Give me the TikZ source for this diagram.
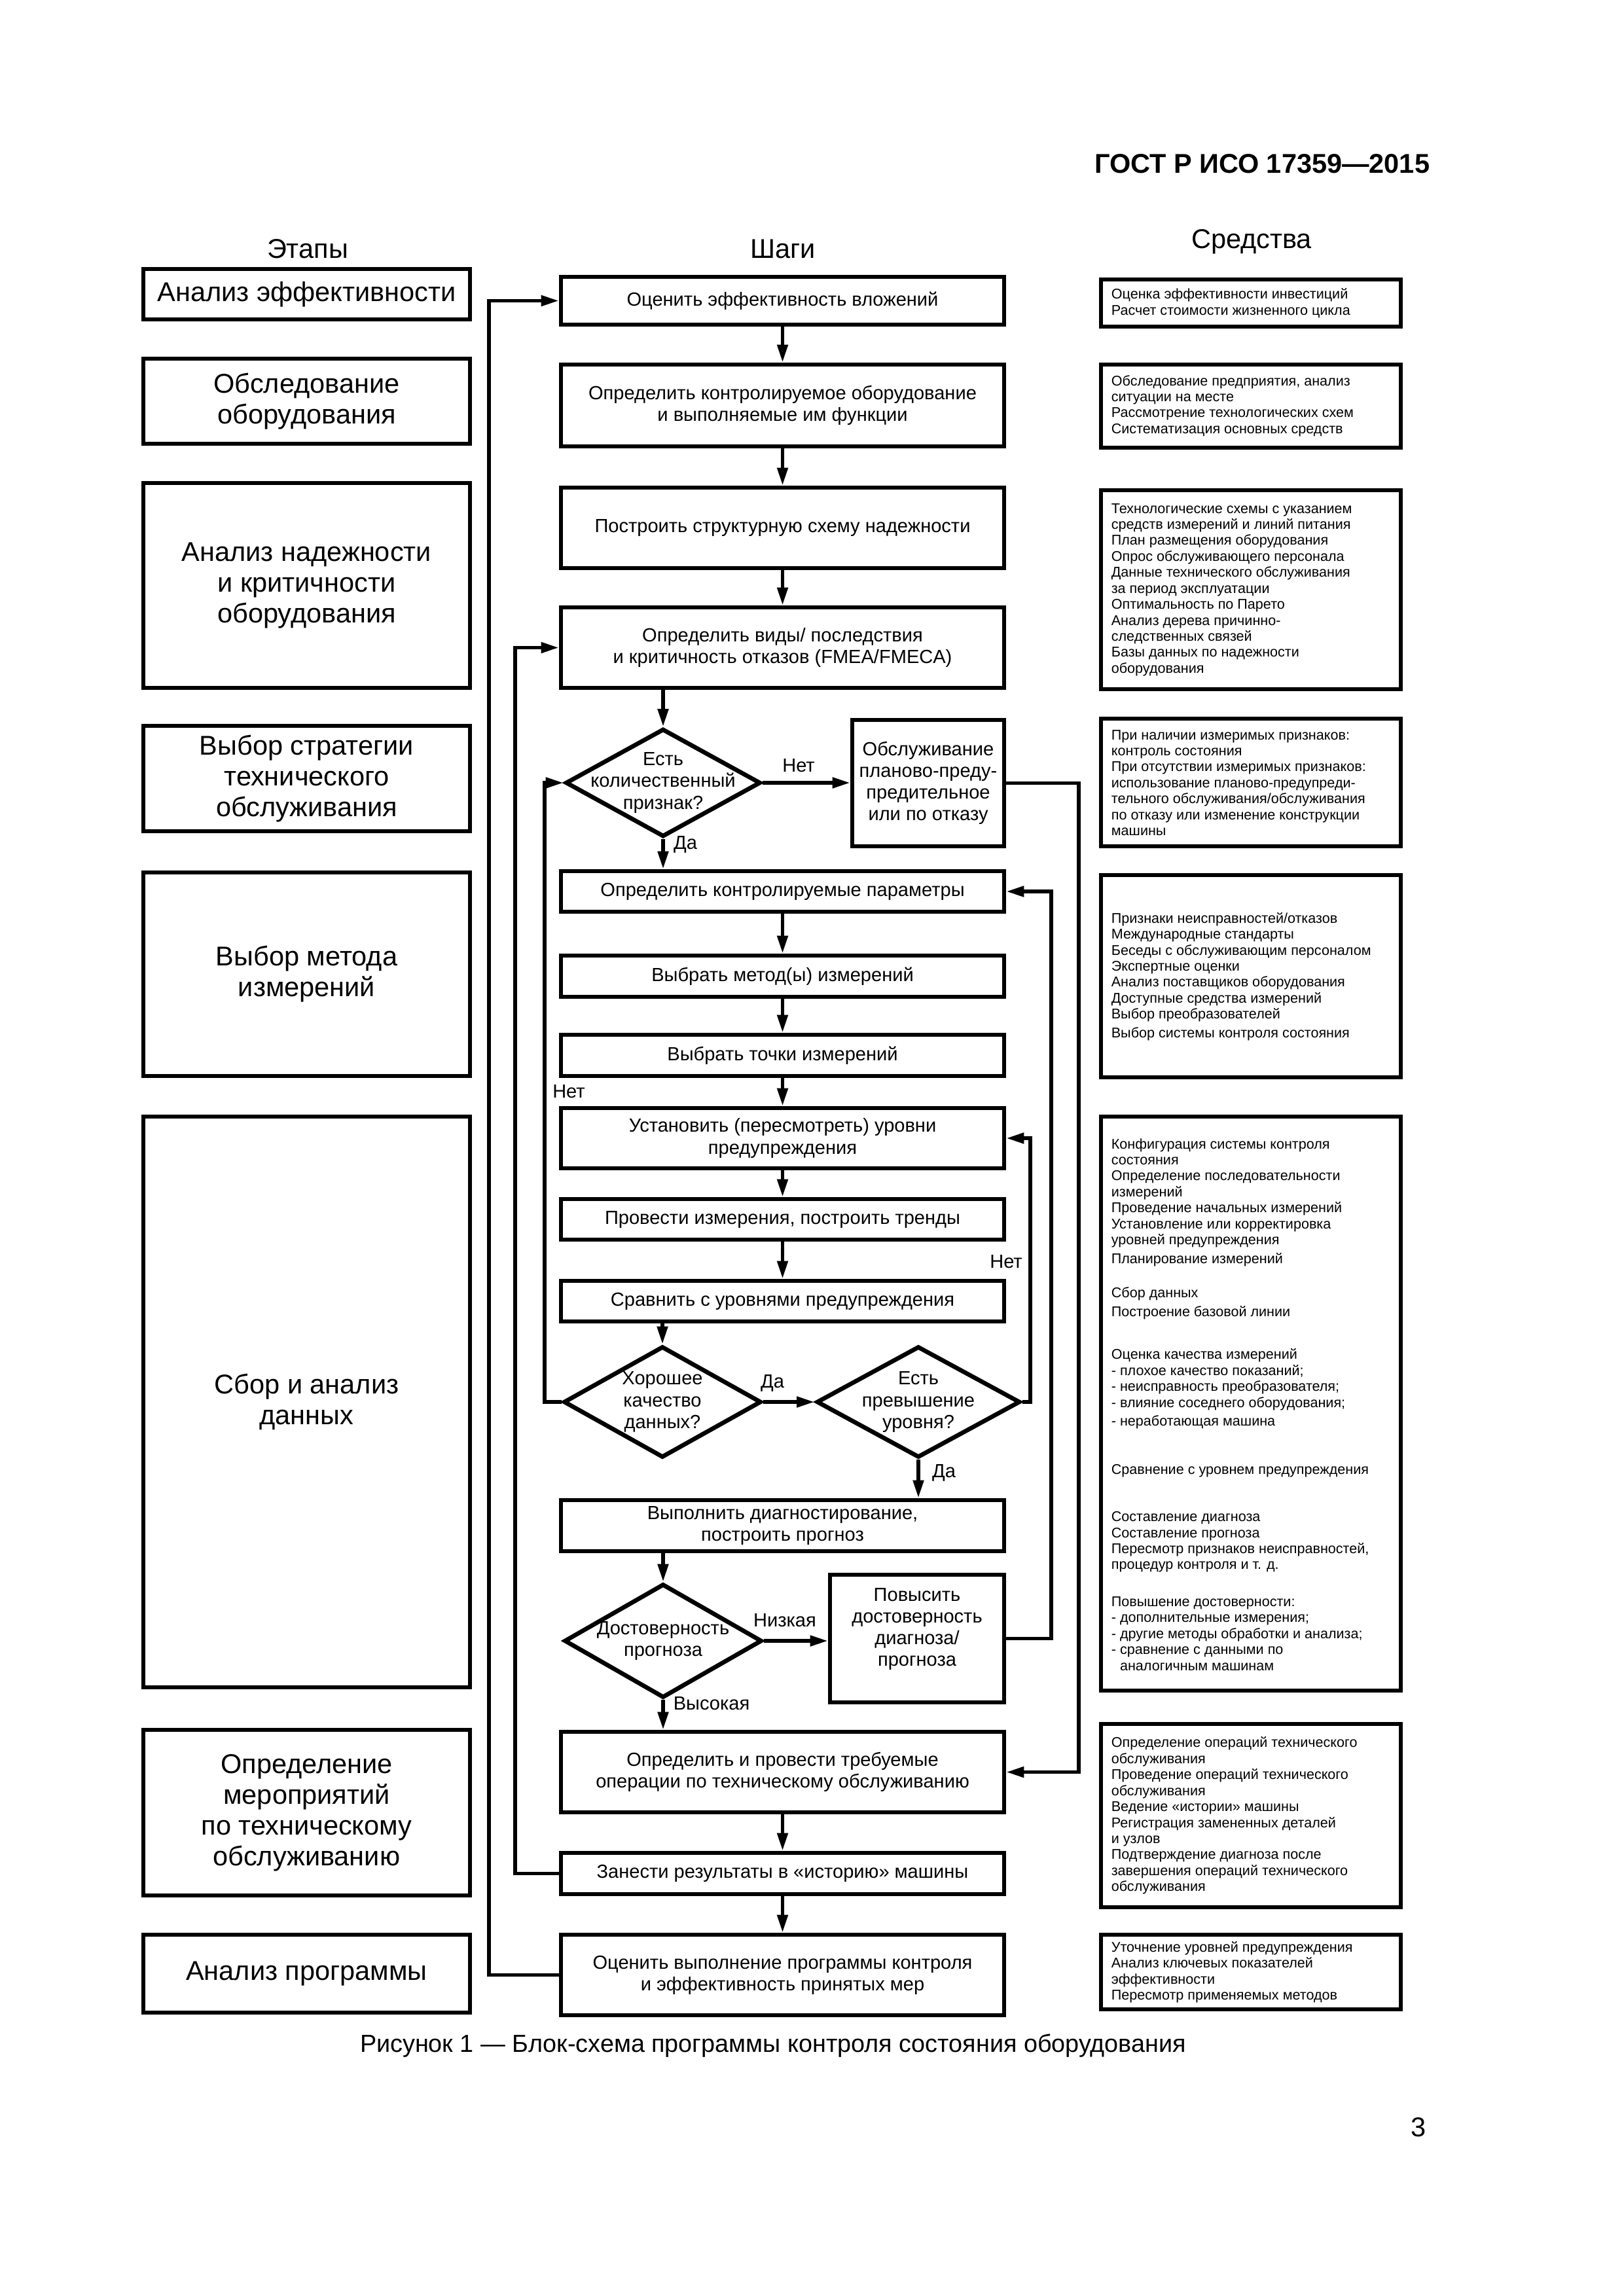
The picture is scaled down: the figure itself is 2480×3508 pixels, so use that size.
\documentclass[tikz,border=0pt]{standalone}
\usepackage{fontspec}
\setmainfont{Liberation Sans}
\usetikzlibrary{arrows.meta,shapes.geometric}
\newdimen\pxu
\pxu=0.08468mm
\begin{document}
\begin{tikzpicture}[x=0.08468mm, y=-0.08468mm,
  box/.style={draw, line width=1.6pt, inner sep=0pt, align=center},
  rect/.style n args={4}{minimum width={(#3-#1)*\pxu}, minimum height={(#4-#2)*\pxu}, at={({(#1+#3)/2},{(#2+#4)/2})}},
  mtext/.style={font=\fontsize{7}{8}\selectfont, align=center},
  ltext/.style={font=\fontsize{10}{11.3}\selectfont},
  rtext/.style={font=\fontsize{5.2}{5.88}\selectfont, align=left, anchor=west, inner sep=0pt},
  dia/.style={draw, diamond, line width=1.6pt, inner sep=0pt},
  arr/.style={line width=1.3pt, -{Triangle[length=6.5pt,width=3.8pt]}},
  lbl/.style={font=\fontsize{7}{8}\selectfont, inner sep=0pt}
]
\fill[white] (0,0) rectangle (2480,3508);
\useasboundingbox (0,0) rectangle (2480,3508);

% header
\node[font=\bfseries\fontsize{10}{12}\selectfont, anchor=base east, inner sep=0pt] (hdr) at (2185,264) {ГОСТ Р ИСО 17359—2015};
\node[font=\fontsize{10}{12}\selectfont] (hE) at (470,380) {Этапы};
\node[font=\fontsize{10}{12}\selectfont] (hS) at (1196,380) {Шаги};
\node[font=\fontsize{10}{12}\selectfont] (hM) at (1912,369) {Средства};

% left column
\node[box, ltext, rect={219}{411}{718}{488}] (L1) {Анализ эффективности};
\node[box, ltext, rect={219}{548}{718}{678}] (L2) {Обследование\\оборудования};
\node[box, ltext, rect={219}{738}{718}{1051}] (L3) {Анализ надежности\\и критичности\\оборудования};
\node[box, ltext, rect={219}{1109}{718}{1270}] (L4) {Выбор стратегии\\технического\\обслуживания};
\node[box, ltext, rect={219}{1333}{718}{1644}] (L5) {Выбор метода\\измерений};
\node[box, ltext, rect={219}{1706}{718}{2578}] (L6) {Сбор и анализ\\данных};
\node[box, ltext, rect={219}{2643}{718}{2896}] (L7) {Определение\\мероприятий\\по техническому\\обслуживанию};
\node[box, ltext, rect={219}{2956}{718}{3075}] (L8) {Анализ программы};

% middle column
\node[box, mtext, rect={857}{423}{1534}{496}] (b1) {Оценить эффективность вложений};
\node[box, mtext, rect={857}{557}{1534}{682}] (b2) {Определить контролируемое оборудование\\и выполняемые им функции};
\node[box, mtext, rect={857}{745}{1534}{868}] (b3) {Построить структурную схему надежности};
\node[box, mtext, rect={857}{928}{1534}{1051}] (b4) {Определить виды/ последствия\\и критичность отказов (FMEA/FMECA)};
\node[dia, minimum width=298*\pxu, minimum height=165*\pxu] (d1) at (1013,1196) {};
\node[mtext, inner sep=0pt] (d1t) at (1013,1196) {Есть\\количественный\\признак?};
\node[box, mtext, rect={1302}{1100}{1534}{1293}] (ob) {Обслуживание\\планово-преду-\\предительное\\или по отказу};
\node[box, mtext, rect={857}{1331}{1534}{1393}] (b5) {Определить контролируемые параметры};
\node[box, mtext, rect={857}{1460}{1534}{1523}] (b6) {Выбрать метод(ы) измерений};
\node[box, mtext, rect={857}{1581}{1534}{1644}] (b7) {Выбрать точки измерений};
\node[box, mtext, rect={857}{1693}{1534}{1785}] (b8) {Установить (пересмотреть) уровни\\предупреждения};
\node[box, mtext, rect={857}{1832}{1534}{1894}] (b9) {Провести измерения, построить тренды};
\node[box, mtext, rect={857}{1957}{1534}{2019}] (b10) {Сравнить с уровнями предупреждения};
\node[dia, minimum width=302*\pxu, minimum height=170*\pxu] (d2) at (1012,2142) {};
\node[mtext, inner sep=0pt] (d2t) at (1012,2142) {Хорошее\\качество\\данных?};
\node[dia, minimum width=311*\pxu, minimum height=170*\pxu] (d3) at (1403,2142) {};
\node[mtext, inner sep=0pt] (d3t) at (1403,2142) {Есть\\превышение\\уровня?};
\node[box, mtext, rect={857}{2292}{1534}{2370}] (b11) {Выполнить диагностирование,\\построить прогноз};
\node[dia, minimum width=302*\pxu, minimum height=174*\pxu] (d4) at (1013,2507) {};
\node[mtext, inner sep=0pt] (d4t) at (1013,2507) {Достоверность\\прогноза};
\node[box, rect={1268}{2406}{1534}{2601}] (pov) {};
\node[mtext, inner sep=0pt] (povt) at (1401,2489) {Повысить\\достоверность\\диагноза/\\прогноза};
\node[box, mtext, rect={857}{2646}{1534}{2769}] (b12) {Определить и провести требуемые\\операции по техническому обслуживанию};
\node[box, mtext, rect={857}{2831}{1534}{2894}] (b13) {Занести результаты в «историю» машины};
\node[box, mtext, rect={857}{2956}{1534}{3079}] (b14) {Оценить выполнение программы контроля\\и эффективность принятых мер};

% right column
\node[box, rect={1682}{427}{2140}{499}] (R1) {};
\node[rtext] (R1t) at (1697,463) {Оценка эффективности инвестиций\\Расчет стоимости жизненного цикла};
\node[box, rect={1682}{557}{2140}{684}] (R2) {};
\node[rtext] (R2t) at (1697,620) {Обследование предприятия, анализ\\ситуации на месте\\Рассмотрение технологических схем\\Систематизация основных средств};
\node[box, rect={1682}{749}{2140}{1053}] (R3) {};
\node[rtext] (R3t) at (1697,901) {Технологические схемы с указанием\\средств измерений и линий питания\\План размещения оборудования\\Опрос обслуживающего персонала\\Данные технического обслуживания\\за период эксплуатации\\Оптимальность по Парето\\Анализ дерева причинно-\\следственных связей\\Базы данных по надежности\\оборудования};
\node[box, rect={1682}{1098}{2140}{1293}] (R4) {};
\node[rtext] (R4t) at (1697,1196) {При наличии измеримых признаков:\\контроль состояния\\При отсутствии измеримых признаков:\\использование планово-предупреди-\\тельного обслуживания/обслуживания\\по отказу или изменение конструкции\\машины};
\node[box, rect={1682}{1337}{2140}{1646}] (R5) {};
\node[rtext] (R5t) at (1697,1492) {Признаки неисправностей/отказов\\Международные стандарты\\Беседы с обслуживающим персоналом\\Экспертные оценки\\Анализ поставщиков оборудования\\Доступные средства измерений\\Выбор преобразователей\\[1pt]Выбор системы контроля состояния};
\node[box, rect={1682}{1706}{2140}{2583}] (R6) {};
\node[rtext] (R6a) at (1697,1837) {Конфигурация системы контроля\\состояния\\Определение последовательности\\измерений\\Проведение начальных измерений\\Установление или корректировка\\уровней предупреждения\\[1pt]Планирование измерений};
\node[rtext] (R6b) at (1697,1991) {Сбор данных\\[1.2pt]Построение базовой линии};
\node[rtext] (R6c) at (1697,2122) {Оценка качества измерений\\- плохое качество показаний;\\- неисправность преобразователя;\\- влияние соседнего оборудования;\\[1pt]- неработающая машина};
\node[rtext] (R6d) at (1697,2247) {Сравнение с уровнем предупреждения};
\node[rtext] (R6e) at (1697,2356) {Составление диагноза\\Составление прогноза\\Пересмотр признаков неисправностей,\\процедур контроля и т. д.};
\node[rtext] (R6f) at (1697,2496) {Повышение достоверности:\\- дополнительные измерения;\\- другие методы обработки и анализа;\\- сравнение с данными по\\\hphantom{- }аналогичным машинам};
\node[box, rect={1682}{2634}{2140}{2914}] (R7) {};
\node[rtext] (R7t) at (1697,2774) {Определение операций технического\\обслуживания\\Проведение операций технического\\обслуживания\\Ведение «истории» машины\\Регистрация замененных деталей\\и узлов\\Подтверждение диагноза после\\завершения операций технического\\обслуживания};
\node[box, rect={1682}{2956}{2140}{3070}] (R8) {};
\node[rtext] (R8t) at (1697,3013) {Уточнение уровней предупреждения\\Анализ ключевых показателей\\эффективности\\Пересмотр применяемых методов};

% caption and page number
\node[font=\fontsize{9.1}{11}\selectfont] (cap) at (1181,3126) {Рисунок 1 — Блок-схема программы контроля состояния оборудования};
\node[font=\fontsize{10}{12}\selectfont] (pg) at (2167,3250) {3};

% helper x positions
\coordinate (xL1) at (747,0);
\coordinate (xL2) at (787,0);
\coordinate (xL3) at (832,0);
\coordinate (xR1) at (1648,0);
\coordinate (xR2) at (1606,0);
\coordinate (xR3) at (1574,0);

% vertical flow
\draw[arr] (b1.south) -- (b2.north);
\draw[arr] (b2.south) -- (b3.north);
\draw[arr] (b3.south) -- (b4.north);
\draw[arr] (b4.south -| d1.north) -- (d1.north);
\draw[arr] (d1.south) -- (d1.south |- b5.north);
\draw[arr] (d1.east) -- (ob.west |- d1.east);
\draw[arr] (b5.south) -- (b6.north);
\draw[arr] (b6.south) -- (b7.north);
\draw[arr] (b7.south) -- (b8.north);
\draw[arr] (b8.south) -- (b9.north);
\draw[arr] (b9.south) -- (b10.north);
\draw[arr] (b10.south -| d2.north) -- (d2.north);
\draw[arr] (d2.east) -- (d3.west);
\draw[arr] (d3.south) -- (d3.south |- b11.north);
\draw[arr] (b11.south -| d4.north) -- (d4.north);
\draw[arr] (d4.east) -- (pov.west |- d4.east);
\draw[arr] (d4.south) -- (d4.south |- b12.north);
\draw[arr] (b12.south) -- (b13.north);
\draw[arr] (b13.south) -- (b14.north);

% loops
\draw[arr] (b14.west) -- (b14.west -| xL1) |- (b1.west);
\draw[arr] (b13.west) -- (b13.west -| xL2) |- (b4.west);
\draw[arr] (d2.west) -- (d2.west -| xL3) |- (d1.west);
\draw[arr] (ob.east) -- (ob.east -| xR1) |- (b12.east);
\draw[arr] (pov.east) -- (pov.east -| xR2) |- (b5.east);
\draw[arr] (d3.east) -- (d3.east -| xR3) |- (b8.east);

% labels
\node[lbl] (n1) at (1220,1170) {Нет};
\node[lbl] (y1) at (1047,1290) {Да};
\node[lbl] (n2) at (869,1668) {Нет};
\node[lbl] (n3) at (1537,1928) {Нет};
\node[lbl] (y2) at (1180,2113) {Да};
\node[lbl] (y3) at (1442,2250) {Да};
\node[lbl] (lo) at (1199,2476) {Низкая};
\node[lbl] (hi) at (1087,2603) {Высокая};
\end{tikzpicture}
\end{document}
